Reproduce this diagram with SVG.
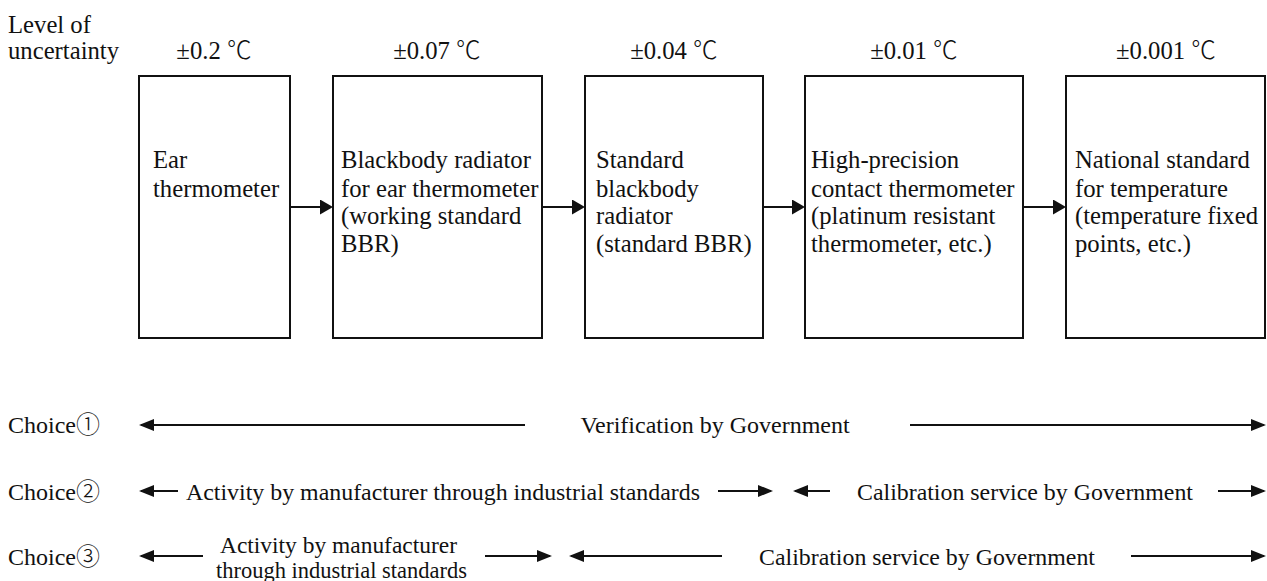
<svg xmlns="http://www.w3.org/2000/svg" width="1267" height="581" viewBox="0 0 1267 581" font-family="Liberation Serif, Tinos, Times New Roman, Noto Serif, serif">
<style>
text{font-size:24px;fill:#111}
.big{font-size:24.7px}
.cj{font-family:"Noto Sans CJK JP","Noto Sans CJK SC",sans-serif;font-weight:300}
.c{text-anchor:middle}
.box{fill:#fff;stroke:#111;stroke-width:2}
.ln{stroke:#111;stroke-width:2;fill:none}
</style>
<defs>
<marker id="ah" markerUnits="userSpaceOnUse" markerWidth="16" markerHeight="14" refX="13" refY="6" orient="auto-start-reverse"><path d="M0,0 L15,6 L0,12 z" fill="#111"/></marker>
<marker id="bh" markerUnits="userSpaceOnUse" markerWidth="16" markerHeight="16" refX="11" refY="7.5" orient="auto-start-reverse"><path d="M0,0 L13,7.5 L0,15 z" fill="#111"/></marker>
</defs>
<rect width="1267" height="581" fill="#fff"/>
<g id="header">
<text class="big" x="8" y="33">Level of</text>
<text class="big" x="8" y="59">uncertainty</text>
<text class="c big" x="214" y="59">±0.2 <tspan class="cj">℃</tspan></text>
<text class="c big" x="437" y="59">±0.07 <tspan class="cj">℃</tspan></text>
<text class="c big" x="674" y="59">±0.04 <tspan class="cj">℃</tspan></text>
<text class="c big" x="914" y="59">±0.01 <tspan class="cj">℃</tspan></text>
<text class="c big" x="1166" y="59">±0.001 <tspan class="cj">℃</tspan></text>
</g>
<g id="node1">
<rect class="box" x="139" y="76" width="151" height="262"/>
<text class="big" x="153" y="168">Ear</text>
<text class="big" x="153" y="197">thermometer</text>
</g>
<g id="node2">
<rect class="box" x="333" y="76" width="209" height="262"/>
<text class="big" x="341" y="168">Blackbody radiator</text>
<text class="big" x="341" y="197">for ear thermometer</text>
<text class="big" x="341" y="224">(working standard</text>
<text class="big" x="341" y="252">BBR)</text>
</g>
<g id="node3">
<rect class="box" x="585" y="76" width="178" height="262"/>
<text class="big" x="596" y="168">Standard</text>
<text class="big" x="596" y="197">blackbody</text>
<text class="big" x="596" y="224">radiator</text>
<text class="big" x="596" y="252">(standard BBR)</text>
</g>
<g id="node4">
<rect class="box" x="805" y="76" width="218" height="262"/>
<text class="big" x="811" y="168">High-precision</text>
<text class="big" x="811" y="197">contact thermometer</text>
<text class="big" x="811" y="224">(platinum resistant</text>
<text class="big" x="811" y="252">thermometer, etc.)</text>
</g>
<g id="node5">
<rect class="box" x="1066" y="76" width="199" height="262"/>
<text class="big" x="1075" y="168">National standard</text>
<text class="big" x="1075" y="197">for temperature</text>
<text class="big" x="1075" y="224">(temperature fixed</text>
<text class="big" x="1075" y="252">points, etc.)</text>
</g>
<g id="connectors">
<line class="ln" x1="290" y1="207" x2="331" y2="207" marker-end="url(#bh)"/>
<line class="ln" x1="542" y1="207" x2="583" y2="207" marker-end="url(#bh)"/>
<line class="ln" x1="763" y1="207" x2="803" y2="207" marker-end="url(#bh)"/>
<line class="ln" x1="1023" y1="207" x2="1064" y2="207" marker-end="url(#bh)"/>
</g>
<g id="choices">
<text x="8" y="433">Choice<tspan class="cj">①</tspan></text>
<text x="8" y="500">Choice<tspan class="cj">②</tspan></text>
<text x="8" y="565">Choice<tspan class="cj">③</tspan></text>
<line class="ln" x1="141" y1="425" x2="525" y2="425" marker-start="url(#ah)"/>
<text class="c" x="715" y="433">Verification by Government</text>
<line class="ln" x1="910" y1="425" x2="1264" y2="425" marker-end="url(#ah)"/>

<line class="ln" x1="141" y1="491" x2="178" y2="491" marker-start="url(#ah)"/>
<text x="186" y="500" textLength="514" lengthAdjust="spacingAndGlyphs">Activity by manufacturer through industrial standards</text>
<line class="ln" x1="718" y1="491" x2="771" y2="491" marker-end="url(#ah)"/>
<line class="ln" x1="795" y1="491" x2="830" y2="491" marker-start="url(#ah)"/>
<text x="857" y="500" textLength="336" lengthAdjust="spacingAndGlyphs">Calibration service by Government</text>
<line class="ln" x1="1218" y1="491" x2="1264" y2="491" marker-end="url(#ah)"/>

<line class="ln" x1="141" y1="556" x2="203" y2="556" marker-start="url(#ah)"/>
<text x="220" y="553" textLength="237" lengthAdjust="spacingAndGlyphs">Activity by manufacturer</text>
<text x="216" y="578" textLength="251" lengthAdjust="spacingAndGlyphs">through industrial standards</text>
<line class="ln" x1="485" y1="556" x2="550" y2="556" marker-end="url(#ah)"/>
<line class="ln" x1="571" y1="556" x2="722" y2="556" marker-start="url(#ah)"/>
<text x="759" y="565" textLength="336" lengthAdjust="spacingAndGlyphs">Calibration service by Government</text>
<line class="ln" x1="1131" y1="556" x2="1264" y2="556" marker-end="url(#ah)"/>
</g>
</svg>
